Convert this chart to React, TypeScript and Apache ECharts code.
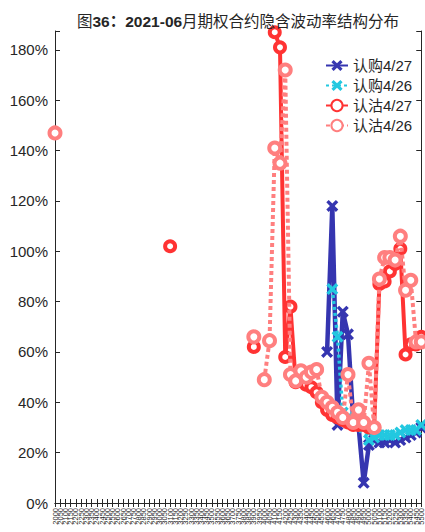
import React, { useEffect, useRef } from 'react';
import * as echarts from 'echarts';

const categories = [
  '2000', '2050', '2100', '2150', '2200', '2250', '2300', '2350', '2400', '2450',
  '2500', '2550', '2600', '2650', '2700', '2750', '2800', '2850', '2900', '2950',
  '3000', '3050', '3100', '3150', '3200', '3250', '3300', '3350', '3400', '3450',
  '3500', '3550', '3600', '3650', '3700', '3750', '3800', '3850', '3900', '3950',
  '4000', '4050', '4100', '4150', '4200', '4250', '4300', '4350', '4400', '4450',
  '4500', '4550', '4600', '4650', '4700', '4750', '4800', '4850', '4900', '4950',
  '5000', '5050', '5100', '5150', '5200', '5250', '5300', '5350', '5400', '5450',
  '5500',
];

const N = null;

// 认购4/27
const call0427 = [
  N, N, N, N, N, N, N, N, N, N,
  N, N, N, N, N, N, N, N, N, N,
  N, N, N, N, N, N, N, N, N, N,
  N, N, N, N, N, N, N, N, N, N,
  N, N, N, N, N, N, N, N, N, N,
  N, N, 60, 118, 31, 76, 67, 33, 31, 8,
  23, 25, 24, 24, 25, 24, 25, 26, 27, 28,
  30,
];

// 认购4/26
const call0426 = [
  N, N, N, N, N, N, N, N, N, N,
  N, N, N, N, N, N, N, N, N, N,
  N, N, N, N, N, N, N, N, N, N,
  N, N, N, N, N, N, N, N, N, N,
  N, N, N, N, N, N, N, N, N, N,
  N, N, N, 85, 66, 36, 34, 33, 32, 30,
  25, 26, 27, 27, 27, 27, 28, 29, 29, 29,
  31,
];

// 认沽4/27
const put0427 = [
  N, N, N, N, N, N, N, N, N, N,
  N, N, N, N, N, N, N, N, N, N,
  N, N, 102, N, N, N, N, N, N, N,
  N, N, N, N, N, N, N, N, 62, N,
  N, N, 187, 181, 58, 78, 48, 49, 47, 46,
  44, 40, 37, 35, 34, 33, 32, 31, 31, 31,
  30, 30, 87, 88, 92, 95, 101, 59, 63, 63,
  66,
];

// 认沽4/26
const put0426 = [
  147, N, N, N, N, N, N, N, N, N,
  N, N, N, N, N, N, N, N, N, N,
  N, N, N, N, N, N, N, N, N, N,
  N, N, N, N, N, N, N, N, 66, N,
  49, 64.5, 141, 135, 172, 51, 48.5, 52.5, 50, 52,
  53, 42, 40, 38, 36, 34, 51, 32, 37, 32,
  55.5, 30, 89, 97.5, 97.5, 96.5, 106, 84.5, 88.5, 64,
  64,
];

const yTicks = [0, 20, 40, 60, 80, 100, 120, 140, 160, 180];

const FONT = "'Liberation Sans', 'Noto Sans CJK SC', sans-serif";
const AX = '#262626';
const XMARK = 'path://M2,0 L5,3 L8,0 L10,2 L7,5 L10,8 L8,10 L5,7 L2,10 L0,8 L3,5 L0,2 Z';

export default function App() {
  const ref = useRef<HTMLDivElement>(null);
  useEffect(() => {
    const chart = echarts.init(ref.current!, null, { renderer: 'svg' });
    const yFmt = (v: number) => (yTicks.indexOf(v) >= 0 ? v + '%' : '');
    chart.setOption({
      animation: false,
      textStyle: { fontFamily: FONT },
      title: {
        text: '{n|图}{b|36：2021-06}{n|月期权合约隐含波动率结构分布}',
        left: 72,
        top: 9,
        textStyle: {
          fontWeight: 'normal',
          rich: {
            n: { fontSize: 15.5, color: AX, fontWeight: 'normal', fontFamily: FONT },
            b: { fontSize: 15.5, color: AX, fontWeight: 'bold', fontFamily: FONT },
          },
        },
      },
      legend: {
        orient: 'vertical',
        left: 320,
        top: 53,
        itemWidth: 22,
        itemHeight: 14,
        itemGap: 5,
        textStyle: { fontSize: 15, color: AX, fontFamily: FONT },
        data: ['认购4/27', '认购4/26', '认沽4/27', '认沽4/26'],
      },
      grid: { left: 55, right: 0, top: 31, bottom: 29, containLabel: false },
      xAxis: [
        {
          type: 'category',
          data: categories,
          boundaryGap: false,
          axisLine: { lineStyle: { color: AX, width: 1 } },
          axisTick: { inside: true, length: 4, interval: 0, lineStyle: { color: AX } },
          axisLabel: { rotate: 90, fontSize: 7.5, interval: 0, margin: 5, color: AX, fontFamily: FONT },
          splitLine: { show: false },
        },
        {
          type: 'category',
          data: categories,
          position: 'top',
          boundaryGap: false,
          axisLine: { lineStyle: { color: AX, width: 1 } },
          axisTick: { inside: true, length: 4, interval: 0, lineStyle: { color: AX } },
          axisLabel: { show: false },
          splitLine: { show: false },
        },
      ],
      yAxis: [
        {
          type: 'value',
          min: 0,
          max: 187.5,
          interval: 20,
          axisLine: { show: true, lineStyle: { color: AX, width: 1 } },
          axisTick: { show: true, inside: true, length: 5, lineStyle: { color: AX } },
          axisLabel: { formatter: yFmt, fontSize: 15, margin: 7, color: AX, fontFamily: FONT },
          splitLine: { show: false },
        },
        {
          type: 'value',
          min: 0,
          max: 187.5,
          interval: 20,
          position: 'right',
          axisLine: { show: true, lineStyle: { color: AX, width: 1 } },
          axisTick: { show: true, inside: true, length: 5, lineStyle: { color: AX } },
          axisLabel: { show: false },
          splitLine: { show: false },
        },
      ],
      series: [
        {
          name: '认购4/27',
          type: 'line',
          data: call0427,
          symbol: XMARK,
          symbolSize: 12,
          showAllSymbol: true,
          lineStyle: { width: 4.5, color: '#3535B0' },
          itemStyle: { color: '#3535B0' },
          z: 2,
        },
        {
          name: '认购4/26',
          type: 'line',
          data: call0426,
          symbol: XMARK,
          symbolSize: 12,
          showAllSymbol: true,
          lineStyle: { width: 3.5, color: '#22C8E0', type: [3, 3] },
          itemStyle: { color: '#22C8E0' },
          z: 3,
        },
        {
          name: '认沽4/27',
          type: 'line',
          data: put0427,
          symbol: 'circle',
          symbolSize: 10,
          showAllSymbol: true,
          lineStyle: { width: 4, color: '#FF3333' },
          itemStyle: { color: '#ffffff', borderColor: '#FF3333', borderWidth: 4 },
          z: 4,
        },
        {
          name: '认沽4/26',
          type: 'line',
          data: put0426,
          symbol: 'circle',
          symbolSize: 11,
          showAllSymbol: true,
          lineStyle: { width: 4, color: '#FF7F7F', type: [4, 3] },
          itemStyle: { color: '#ffffff', borderColor: '#FF7F7F', borderWidth: 4 },
          z: 5,
        },
      ],
    });
    return () => chart.dispose();
  }, []);
  return (
    <div
      ref={ref}
      style={{ position: 'absolute', left: 0, top: 0, width: 425, height: 532, background: '#fff' }}
    />
  );
}
